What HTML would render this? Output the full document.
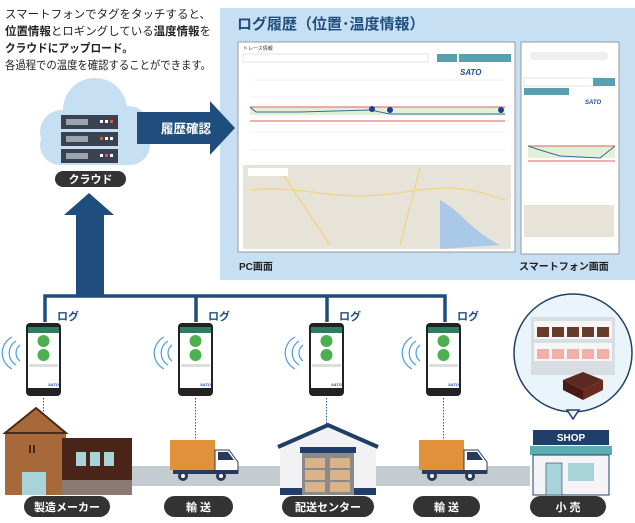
<!DOCTYPE html>
<html><head><meta charset="utf-8">
<style>
body{margin:0;background:#fff;}
svg{display:block;font-family:"Liberation Sans","Noto Sans CJK JP",sans-serif;}
</style></head><body>
<svg width="635" height="523" viewBox="0 0 635 523" xmlns="http://www.w3.org/2000/svg">
<!-- panel -->
<rect x="220" y="8" width="415" height="272" fill="#c6dff2"/>
<!-- intro text -->
<g font-size="11.2" fill="#222">
<text x="5" y="18" textLength="206" lengthAdjust="spacingAndGlyphs">スマートフォンでタグをタッチすると、</text>
<text x="5" y="35" textLength="206" lengthAdjust="spacingAndGlyphs"><tspan font-weight="bold">位置情報</tspan>とロギングしている<tspan font-weight="bold">温度情報</tspan>を</text>
<text x="5" y="52" font-weight="bold" textLength="128" lengthAdjust="spacingAndGlyphs">クラウドにアップロード。</text>
<text x="5" y="69" textLength="206" lengthAdjust="spacingAndGlyphs">各過程での温度を確認することができます。</text>
</g>
<!-- cloud -->
<g fill="#c6dff2">
<circle cx="95" cy="110" r="32"/><circle cx="62" cy="132" r="22"/><circle cx="128" cy="128" r="22"/>
<rect x="40" y="125" width="110" height="40" rx="20"/>
</g>
<!-- servers -->
<g>
<rect x="61" y="115" width="57" height="14" fill="#3a4150"/>
<rect x="61" y="132" width="57" height="14" fill="#3a4150"/>
<rect x="61" y="149" width="57" height="14" fill="#3a4150"/>
<g fill="#9aa3b0"><rect x="66" y="119" width="22" height="6"/><rect x="66" y="136" width="22" height="6"/><rect x="66" y="153" width="22" height="6"/></g>
<g fill="#fff"><rect x="100" y="120" width="3" height="3"/><rect x="105" y="120" width="3" height="3"/><rect x="105" y="137" width="3" height="3"/><rect x="110" y="137" width="3" height="3"/><rect x="100" y="154" width="3" height="3"/><rect x="110" y="154" width="3" height="3"/></g>
<g fill="#e05a3a"><rect x="110" y="120" width="3" height="3"/><rect x="100" y="137" width="3" height="3"/><rect x="105" y="154" width="3" height="3"/></g>
</g>
<rect x="55" y="171" width="71" height="16" rx="8" fill="#333"/>
<text x="90.5" y="183" font-size="11" font-weight="bold" fill="#fff" text-anchor="middle">クラウド</text>
<!-- right arrow -->
<polygon points="137,112 210,112 210,101 235,128 210,155 210,144 137,144" fill="#1f4e7e"/>
<text x="161" y="133" font-size="12.5" font-weight="bold" fill="#fff">履歴確認</text>
<!-- up arrow + tree -->
<polygon points="64,215 89,193 114,215 104,215 104,296 76,296 76,215" fill="#1f4e7e"/>
<g stroke="#1f4e7e" stroke-width="3.5" fill="none">
<path d="M45,322 V296 H445 V322"/>
<path d="M196,296 V322"/><path d="M327,296 V322"/>
</g>
<g font-size="11" font-weight="bold" fill="#1f4e7e">
<text x="57" y="320">ログ</text><text x="208" y="320">ログ</text><text x="339" y="320">ログ</text><text x="457" y="320">ログ</text>
</g>
<text x="237" y="29" font-size="15" font-weight="bold" fill="#1f4e7e">ログ履歴（位置･温度情報）</text>
<!-- PC screenshot -->
<rect x="238" y="42" width="277" height="210" fill="#fff" stroke="#999" stroke-width="1"/>
<text x="243" y="50" font-size="5" fill="#333">トレース情報</text>
<rect x="243" y="54" width="185" height="8" fill="#fff" stroke="#ccc" stroke-width=".5"/>
<rect x="437" y="54" width="20" height="8" fill="#5a9fb0"/><rect x="459" y="54" width="52" height="8" fill="#5a9fb0"/>
<text x="460" y="75" font-size="8" font-weight="bold" font-style="italic" fill="#1f4e9e">SATO</text>
<g stroke="#e6e6e6" stroke-width=".5">
<line x1="250" y1="80" x2="505" y2="80"/><line x1="250" y1="97" x2="505" y2="97"/><line x1="250" y1="115" x2="505" y2="115"/><line x1="250" y1="132" x2="505" y2="132"/><line x1="250" y1="150" x2="505" y2="150"/>
</g>
<rect x="250" y="107" width="255" height="8" fill="#e3f0d8"/>
<line x1="250" y1="107" x2="505" y2="107" stroke="#e06060" stroke-width="1"/>
<line x1="250" y1="121" x2="505" y2="121" stroke="#e06060" stroke-width="1"/>
<polyline points="250,107 256,112 300,112 370,110 390,114 505,114" fill="none" stroke="#3a6a9a" stroke-width="1"/>
<g fill="#1f3f8e"><circle cx="372" cy="109" r="3"/><circle cx="390" cy="110" r="3"/><circle cx="501" cy="110" r="3"/></g>
<rect x="243" y="165" width="268" height="84" fill="#e7e3d8"/>
<g stroke="#f3d27a" stroke-width="1.2" fill="none"><path d="M250,190 C300,185 330,200 380,195 S450,180 505,200"/><path d="M280,170 L330,245"/><path d="M420,168 L400,245"/></g>
<path d="M440,200 C460,210 470,230 500,245 L440,249 Z" fill="#aac9e8"/>
<rect x="248" y="168" width="40" height="8" fill="#fff"/>
<!-- phone screenshot -->
<rect x="521" y="42" width="98" height="212" fill="#fff" stroke="#999" stroke-width="1"/>
<rect x="530" y="52" width="78" height="8" rx="4" fill="#eee"/>
<rect x="524" y="78" width="82" height="8" fill="#fff" stroke="#ccc" stroke-width=".5"/>
<rect x="593" y="78" width="22" height="8" fill="#5a9fb0"/><rect x="524" y="88" width="45" height="7" fill="#5a9fb0"/>
<text x="585" y="104" font-size="6" font-weight="bold" font-style="italic" fill="#1f4e9e">SATO</text>
<rect x="528" y="146" width="87" height="12" fill="#e3f0d8"/>
<line x1="528" y1="146" x2="615" y2="146" stroke="#e06060"/><line x1="528" y1="161" x2="615" y2="161" stroke="#e06060"/>
<polyline points="528,146 540,150 560,156 600,158 615,146" fill="none" stroke="#3a6a9a"/>
<rect x="524" y="205" width="90" height="32" fill="#e7e3d8"/>
<text x="239" y="270" font-size="10" font-weight="bold" fill="#222">PC画面</text>
<text x="519" y="270" font-size="10" font-weight="bold" fill="#222">スマートフォン画面</text>
<!-- phones -->
<g id="ph">
<rect x="26" y="323" width="35" height="73" rx="4" fill="#222"/>
<rect x="28" y="327" width="31" height="61" fill="#fff"/>
<rect x="28" y="327" width="31" height="6" fill="#2e7d62"/>
<circle cx="43.5" cy="341" r="6" fill="#4caf50"/><circle cx="43.5" cy="355" r="6" fill="#4caf50"/>
<rect x="29" y="364" width="29" height="3" fill="#ddd"/>
<text x="48" y="386" font-size="4" font-weight="bold" font-style="italic" fill="#1f4e9e">SATO</text>
<g fill="none" stroke="#4a9be0" stroke-width="1.2"><path d="M20,345 a10,10 0 0 0 0,16"/><path d="M16,341 a14,14 0 0 0 0,24"/><path d="M12,337 a18,18 0 0 0 0,32"/></g>
<line x1="43.5" y1="398" x2="43.5" y2="452" stroke="#2a5a9a" stroke-dasharray="1.5,1.5"/>
</g>
<use href="#ph" x="152"/><use href="#ph" x="283"/><use href="#ph" x="400"/>
<!-- ground -->
<rect x="130" y="466" width="400" height="20" fill="#c4cbd1"/>
<!-- factory -->
<polygon points="5,433 36,408 66,433 66,495 5,495" fill="#a8693a"/>
<polygon points="5,433 36,408 66,433" fill="none" stroke="#4a2a18" stroke-width="2"/>
<rect x="62" y="438" width="70" height="57" fill="#4a2418"/>
<rect x="62" y="480" width="70" height="15" fill="#8a7a72"/>
<g fill="#a8d3d8"><rect x="76" y="452" width="10" height="14"/><rect x="90" y="452" width="10" height="14"/><rect x="104" y="452" width="10" height="14"/><rect x="22" y="472" width="24" height="23"/></g>
<rect x="29" y="445" width="2" height="8" fill="#4a2418"/><rect x="33" y="445" width="2" height="8" fill="#4a2418"/>
<!-- trucks -->
<g id="tr">
<rect x="170" y="440" width="45" height="30" fill="#e0913a"/>
<polygon points="215,450 229,450 238,462 238,473 215,473" fill="#fff" stroke="#2a3a5a" stroke-width="1"/>
<polygon points="218,452 228,452 234,460 218,460" fill="#2a3a5a"/>
<rect x="173" y="470" width="65" height="4" fill="#2a3a5a"/>
<circle cx="183" cy="476" r="5" fill="#2a3a5a"/><circle cx="183" cy="476" r="2" fill="#fff"/>
<circle cx="221" cy="476" r="5" fill="#2a3a5a"/><circle cx="221" cy="476" r="2" fill="#fff"/>
</g>
<use href="#tr" x="249"/>
<!-- warehouse -->
<polygon points="280,445 328,426 376,445 376,495 280,495" fill="#f2f2f4"/>
<polyline points="278,447 328,425 378,447" fill="none" stroke="#1f3f6a" stroke-width="4"/>
<rect x="300" y="447" width="56" height="6" fill="#1f3f6a"/>
<rect x="302" y="453" width="52" height="42" fill="#8a8a8a"/>
<g fill="#d9b48a"><rect x="305" y="458" width="20" height="10"/><rect x="330" y="458" width="20" height="10"/><rect x="305" y="470" width="20" height="10"/><rect x="330" y="470" width="20" height="10"/><rect x="305" y="482" width="20" height="10"/><rect x="330" y="482" width="20" height="10"/></g>
<rect x="280" y="488" width="22" height="7" fill="#1f3f6a"/><rect x="354" y="488" width="22" height="7" fill="#1f3f6a"/>
<!-- shop -->
<rect x="533" y="430" width="76" height="15" fill="#1f3f6a"/>
<text x="571" y="441" font-size="10" font-weight="bold" fill="#fff" text-anchor="middle">SHOP</text>
<rect x="530" y="446" width="82" height="9" fill="#5aaeb0"/>
<rect x="533" y="455" width="76" height="40" fill="#f4f4f6" stroke="#1f3f6a" stroke-width="1"/>
<rect x="546" y="463" width="16" height="32" fill="#a8d3d8" stroke="#1f3f6a" stroke-width=".6"/>
<rect x="568" y="463" width="26" height="18" fill="#a8d3d8"/>
<!-- bubble -->
<circle cx="573" cy="353" r="59" fill="#eaf4fb" stroke="#1f3f6a" stroke-width="1.5"/>
<polygon points="567,410 573,419 579,410" fill="#eaf4fb" stroke="#1f3f6a" stroke-width="1.5"/>
<rect x="531" y="317" width="84" height="58" fill="#d8dde2"/>
<rect x="534" y="321" width="78" height="18" fill="#f6f6f6"/><rect x="534" y="343" width="78" height="18" fill="#f6f6f6"/>
<g fill="#6a3a2a"><rect x="537" y="327" width="12" height="10"/><rect x="552" y="327" width="12" height="10"/><rect x="567" y="327" width="12" height="10"/><rect x="582" y="327" width="12" height="10"/><rect x="597" y="327" width="12" height="10"/></g>
<g fill="#f0b0a8"><rect x="537" y="349" width="12" height="10"/><rect x="552" y="349" width="12" height="10"/><rect x="567" y="349" width="12" height="10"/><rect x="582" y="349" width="12" height="10"/><rect x="597" y="349" width="12" height="10"/></g>
<polygon points="563,380 583,372 603,380 583,390" fill="#5a2a20"/>
<polygon points="563,380 583,390 583,400 563,390" fill="#4a1a18"/><polygon points="603,380 583,390 583,400 603,390" fill="#6a2a20"/>
<!-- pills -->
<g fill="#333">
<rect x="24" y="496" width="86" height="21" rx="10.5"/>
<rect x="164" y="496" width="69" height="21" rx="10.5"/>
<rect x="282" y="496" width="92" height="21" rx="10.5"/>
<rect x="413" y="496" width="67" height="21" rx="10.5"/>
<rect x="530" y="496" width="76" height="21" rx="10.5"/>
</g>
<g font-size="11" font-weight="bold" fill="#fff" text-anchor="middle">
<text x="67" y="511">製造メーカー</text><text x="198.5" y="511">輸 送</text><text x="328" y="511">配送センター</text><text x="446.5" y="511">輸 送</text><text x="568" y="511">小 売</text>
</g>
</svg>
</body></html>
